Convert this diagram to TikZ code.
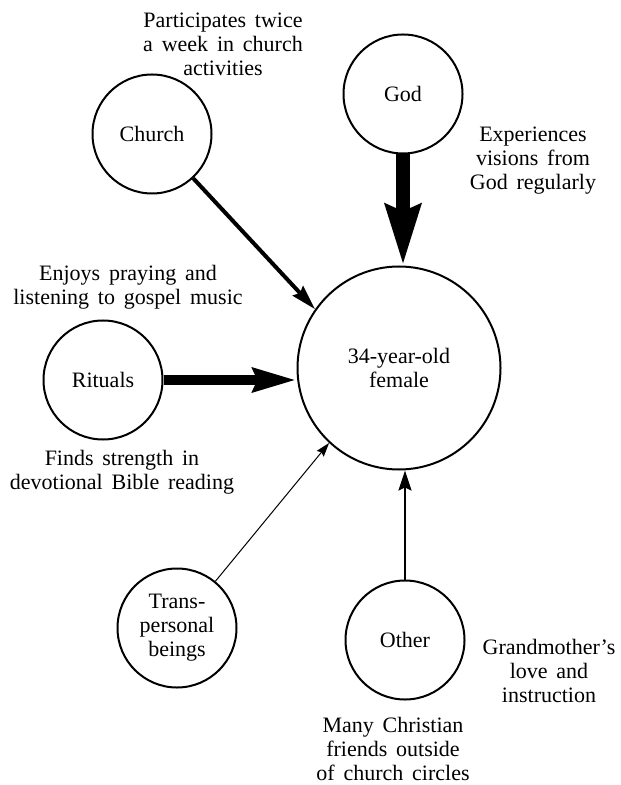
\documentclass[tikz,border=0pt]{standalone}
\usepackage{fontspec}
\setmainfont{Liberation Serif}[WordSpace={1.6,1,1}]
\usetikzlibrary{arrows.meta}
\begin{document}
\begin{tikzpicture}[x=0.5pt,y=-0.5pt,
  every node/.style={font=\fontsize{11}{12}\selectfont, align=center, inner sep=0pt},
  smallcirc/.style={circle, draw, line width=1pt, minimum size=59.5pt},
  bigcirc/.style={circle, draw, line width=1pt, minimum size=101.5pt},
  note/.style={}
]
\useasboundingbox (0,0) rectangle (620,785);

\node[bigcirc] (center) at (399,368) {34-year-old\\female};
\node[smallcirc] (church) at (152,134) {Church};
\node[smallcirc] (god) at (403,94) {God};
\node[smallcirc] (rituals) at (103,380) {Rituals};
\node[smallcirc] (trans) at (177,628) {Trans-\\personal\\beings};
\node[smallcirc] (other) at (405,640) {Other};

\node[note] (n1) at (223,44) {Participates twice\\a week in church\\activities};
\node[note] (n2) at (533,161) {Experiences\\visions from\\God regularly};
\node[note] (n3) at (128,287) {Enjoys praying and\\listening to gospel music};
\node[note] (n4) at (122,472) {Finds strength in\\devotional Bible reading};
\node[note] (n5) at (549,671) {Grandmother’s\\love and\\instruction};
\node[note] (n6) at (393,749) {Many Christian\\friends outside\\of church circles};

\coordinate (gtip) at (god.south |- center.north);
\coordinate (rtip) at (rituals.east -| center.west);
\coordinate (otip) at (other.north |- center.south);

\draw[line width=7pt, -{Stealth[length=30pt,width=17pt,inset=3pt]}] (god.south) -- (gtip);
\draw[line width=5pt, -{Stealth[length=21.5pt,width=11.5pt,inset=2pt]}] (rituals.east) -- (rtip);
\draw[line width=2pt, -{Stealth[length=12.5pt,width=7pt,inset=1.5pt]}] (church) -- (center.145);
\draw[line width=1pt, -{Stealth[length=10pt,width=6.5pt,inset=1.5pt]}] (other.north) -- (otip);
\draw[line width=0.5pt, -{Stealth[length=7pt,width=4.5pt,inset=1pt]}] (trans) -- (center.227);
\end{tikzpicture}
\end{document}
